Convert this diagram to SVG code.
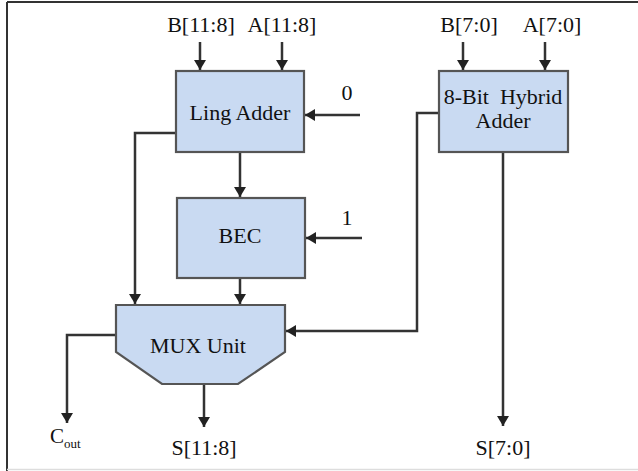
<svg xmlns="http://www.w3.org/2000/svg" width="638" height="471" viewBox="0 0 638 471">
<style>
.box{fill:#c9daf2;stroke:#555;stroke-width:2.2}
.w{fill:none;stroke:#333;stroke-width:2.5}
.t{font-family:"Liberation Serif","Times New Roman",serif;font-size:22px;fill:#111;text-anchor:middle}
</style>
<defs>
<marker id="ah" markerUnits="userSpaceOnUse" markerWidth="11" markerHeight="12" refX="10" refY="6" orient="auto" viewBox="0 0 11 12">
<path d="M0,0 L10,6 L0,12 z" fill="#222"/>
</marker>
</defs>
<rect x="0" y="0" width="638" height="471" fill="#fff"/>
<g id="frame">
<line x1="7" y1="2" x2="638" y2="2" stroke="#333" stroke-width="2"/>
<line x1="7" y1="2" x2="7" y2="471" stroke="#333" stroke-width="2"/>
<line x1="7" y1="469.5" x2="638" y2="469.5" stroke="#ddd" stroke-width="1.5"/>
</g>
<g id="connectors">
<line class="w" x1="200" y1="42" x2="200" y2="70" marker-end="url(#ah)"/>
<line class="w" x1="282" y1="42" x2="282" y2="70" marker-end="url(#ah)"/>
<line class="w" x1="360" y1="115" x2="305" y2="115" marker-end="url(#ah)"/>
<line class="w" x1="240" y1="152" x2="240" y2="197" marker-end="url(#ah)"/>
<polyline class="w" points="176,133 135,133 135,304" marker-end="url(#ah)"/>
<line class="w" x1="362" y1="238" x2="306" y2="238" marker-end="url(#ah)"/>
<line class="w" x1="240" y1="278" x2="240" y2="304" marker-end="url(#ah)"/>
<line class="w" x1="463" y1="42" x2="463" y2="70" marker-end="url(#ah)"/>
<line class="w" x1="545" y1="42" x2="545" y2="70" marker-end="url(#ah)"/>
<polyline class="w" points="439,113 417,113 417,331 286,331" marker-end="url(#ah)"/>
<line class="w" x1="503" y1="152" x2="503" y2="426" marker-end="url(#ah)"/>
<polyline class="w" points="116,335 67,335 67,423" marker-end="url(#ah)"/>
<line class="w" x1="204" y1="384" x2="204" y2="427" marker-end="url(#ah)"/>
</g>
<g id="ling-adder">
<rect class="box" x="176" y="71" width="128" height="81"/>
<text class="t" x="240" y="120">Ling Adder</text>
</g>
<g id="bec">
<rect class="box" x="177" y="198" width="128" height="80"/>
<text class="t" x="240" y="243">BEC</text>
</g>
<g id="mux">
<path class="box" d="M116,305 L285,305 L285,352 L238,384 L162,384 L116,352 Z"/>
<text class="t" x="198" y="353">MUX Unit</text>
</g>
<g id="hybrid-adder">
<rect class="box" x="439" y="71" width="129" height="81"/>
<text class="t" x="503" y="104" xml:space="preserve">8-Bit  Hybrid</text>
<text class="t" x="503" y="128">Adder</text>
</g>
<g id="labels">
<text class="t" x="201" y="32">B[11:8]</text>
<text class="t" x="282" y="32">A[11:8]</text>
<text class="t" x="469" y="32">B[7:0]</text>
<text class="t" x="552" y="32">A[7:0]</text>
<text class="t" x="347" y="100">0</text>
<text class="t" x="347" y="225">1</text>
<text class="t" x="204" y="455">S[11:8]</text>
<text class="t" x="503" y="455">S[7:0]</text>
<text class="t" x="50" y="443" style="text-anchor:start;font-size:21px">C<tspan font-size="13" dy="5">out</tspan></text>
</g>
</svg>
